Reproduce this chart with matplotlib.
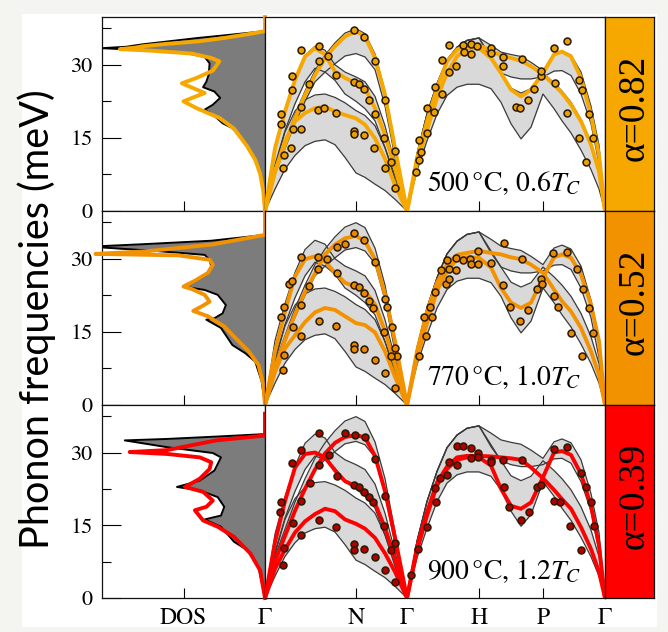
import matplotlib
matplotlib.use('Agg')
import matplotlib.pyplot as plt
from matplotlib.patches import Rectangle

plt.rcParams['mathtext.fontset'] = 'stix'
plt.rcParams['font.family'] = ['STIXGeneral', 'DejaVu Serif']

# ---------------- data ----------------
E_MAX = 39.8
K_TICKS = [0, 91, 142, 214, 278, 340]
K_LABELS = ['Γ', 'N', 'Γ', 'H', 'P', 'Γ']
ROW_TEXT = ['500$\\,$°C, 0.6$T_C$', '770$\\,$°C, 1.0$T_C$', '900$\\,$°C, 1.2$T_C$']
ALPHA_TEXT = ['α=0.82', 'α=0.52', 'α=0.39']
ROW_COLORS = ['#F6A800', '#F39200', '#FF0000']
DOT_COLORS = ['#E9A000', '#E88A00', '#B00000']

# k grids (Γ-N-Γ and Γ-H-P-Γ)
K1 = [0, 10, 20, 30, 40, 50, 60, 70, 80, 91, 100, 110, 120, 130, 142]
K2 = [142, 152, 162, 172, 182, 192, 202, 214, 226, 236, 246, 256, 266, 278,
      289, 297, 306, 316, 326, 334, 340]

# theory bands (grey), Γ-N-Γ
B1_LO = [0, 4.5, 8.6, 11.4, 13.4, 14.3, 14.6, 13.6, 11.0, 7.8, 6.9, 5.5, 4.2, 2.4, 0]
B1_HI = [0, 9.0, 16.2, 20.5, 22.8, 23.8, 24.0, 23.3, 22.2, 20.6, 19.6, 17.5, 13.0, 7.2, 0]
B2_LO = [0, 9.5, 16.5, 22.0, 26.5, 29.3, 28.5, 26.8, 24.0, 22.5, 21.0, 18.5, 13.0, 6.5, 0]
B2_HI = [0, 13.2, 20.8, 27.2, 31.9, 33.8, 33.0, 30.0, 28.5, 27.5, 26.5, 23.5, 17.5, 9.5, 0]
B3_LO = [0, 7.5, 12.8, 18.0, 22.5, 26.5, 28.5, 30.2, 31.8, 32.3, 31.6, 29.0, 21.5, 11.0, 0]
B3_HI = [0, 8.6, 14.2, 19.8, 24.6, 28.8, 32.0, 34.5, 36.5, 37.4, 36.4, 32.2, 24.6, 13.6, 0]
# theory bands, Γ-H-P-Γ
BA_LO = [0, 8.3, 14.4, 19.9, 23.7, 25.4, 26.0, 26.0, 25.1, 22.3, 17.9, 14.8, 17.2, 24.0,
         21.0, 18.5, 16.0, 12.5, 8.5, 4.5, 0]
BA_HI = [0, 11.7, 19.9, 26.1, 31.0, 33.6, 35.0, 35.5, 31.6, 28.3, 25.2, 24.2, 25.1, 28.3,
         26.3, 24.6, 22.3, 18.8, 14.0, 8.5, 0]
BB_LO = [0, 11.7, 19.9, 26.1, 31.0, 33.6, 35.0, 35.5, 31.2, 28.3, 27.5, 27.1, 27.1, 27.5,
         28.7, 28.8, 27.8, 24.0, 17.9, 9.7, 0]
BB_HI = [0, 11.7, 19.9, 26.1, 31.0, 33.6, 35.0, 35.5, 34.0, 32.6, 32.1, 31.7, 30.5, 28.8,
         32.2, 32.8, 32.0, 28.5, 21.5, 13.5, 0]

# fitted dispersions (coloured lines)
R1_B1 = [0, 8.1, 14.3, 18.4, 20.1, 21.1, 21.4, 20.4, 19.7, 19.0, 17.7, 14.9, 10.7, 5.3, 0]
R1_B2 = [0, 12.9, 20.4, 26.9, 31.7, 33.4, 32.1, 28.6, 27.3, 26.2, 25.2, 21.1, 15.6, 8.8, 0]
R1_B3 = [0, 8.1, 13.6, 19.0, 23.8, 27.9, 31.4, 33.8, 35.8, 36.9, 35.8, 31.4, 23.8, 12.9, 0]
R1_U = [0, 10.8, 18.4, 25.2, 30.7, 33.1, 33.8, 34.0, 32.9, 31.9, 31.4, 30.8, 29.7, 28.0,
        25.9, 24.2, 21.8, 18.4, 13.6, 8.1, 0]
R1_L = [0, 9.8, 16.6, 23.2, 28.3, 31.7, 33.4, 33.4, 31.4, 28.3, 24.9, 23.5, 24.9, 28.3,
        32.1, 32.7, 31.7, 27.3, 19.7, 11.5, 0]

R2_B1 = [0, 6.8, 11.6, 14.3, 17.0, 19.0, 19.9, 19.5, 18.2, 16.8, 16.4, 14.9, 11.0, 5.8, 0]
R2_B2 = [0, 11.0, 19.2, 26.4, 29.9, 30.5, 29.5, 27.1, 25.1, 24.2, 23.4, 20.6, 15.1, 8.3, 0]
R2_B3 = [0, 7.8, 13.3, 18.6, 23.2, 27.0, 30.9, 32.9, 34.2, 34.7, 33.6, 29.9, 22.7, 13.1, 0]
R2_U = [0, 11.0, 19.2, 25.1, 28.8, 30.8, 31.2, 31.6, 31.2, 30.9, 30.3, 29.9, 28.8, 27.1,
        23.7, 21.3, 19.2, 15.8, 11.0, 6.2, 0]
R2_L = [0, 9.7, 16.8, 23.4, 27.5, 29.9, 30.3, 30.2, 28.2, 24.0, 21.0, 19.9, 21.0, 26.1,
        30.3, 30.9, 30.2, 26.8, 20.6, 13.1, 0]

R3_B1 = [0, 6.0, 10.0, 13.5, 15.8, 17.3, 18.4, 17.9, 16.2, 15.3, 14.3, 12.4, 9.2, 5.4, 0]
R3_B2 = [0, 11.5, 20.0, 26.9, 29.7, 30.0, 29.0, 26.3, 24.1, 23.0, 22.0, 19.5, 14.5, 8.0, 0]
R3_B3 = [0, 7.5, 12.8, 18.0, 22.5, 26.5, 29.8, 32.0, 33.2, 33.6, 33.1, 29.3, 22.0, 12.5, 0]
R3_U = [0, 10.5, 17.7, 23.8, 27.1, 29.0, 29.3, 29.3, 29.2, 29.0, 28.8, 28.5, 26.9, 24.7,
        22.3, 20.4, 18.4, 14.6, 10.1, 5.4, 0]
R3_L = [0, 9.8, 17.0, 23.2, 26.6, 28.5, 29.0, 29.0, 27.3, 22.5, 19.0, 18.4, 19.7, 24.9,
        30.0, 30.3, 29.5, 25.6, 19.0, 10.8, 0]

# measured points
R1_DOT_K = [16, 16, 27, 27, 36.3, 53.7, 62.7, 53.7, 44.3, 35.7, 27.7, 26.3, 19, 18.3, 36.3,
            53, 58.7, 71, 71, 89, 99, 109.7, 88.7, 93.7, 99, 103.7, 110.3, 120.3, 88.7,
            88.7, 99, 109.3, 118.7, 130.3, 126.3, 120.3, 130.3,
            150.7, 154, 155.7, 154, 162.3, 161.7, 169, 169.7, 176.7, 177.3, 184, 190.7,
            184, 198.3, 205.7, 212.3, 199, 205.7, 225.7, 226.3, 238.3, 237.7, 257.3,
            250.7, 255, 263.3, 269, 275.7, 276.3, 289, 301.7, 290, 302.3, 314, 317.3,
            324, 328, 314, 321.3]
R1_DOT_E = [19.9, 17.8, 27.7, 24.9, 33.0, 33.9, 31.9, 30.7, 26.1, 21.3, 16.9, 13.0, 11.5,
            8.9, 16.9, 20.8, 21.1, 20.1, 28.0, 37.2, 35.6, 30.7, 26.4, 26.1, 25.1, 22.8,
            19.9, 22.8, 16.5, 15.8, 15.6, 12.9, 14.9, 12.3, 10.1, 8.9, 4.7,
            8.1, 10.5, 12.2, 14.6, 16.0, 21.1, 20.4, 25.5, 24.0, 30.9, 34.0, 29.7, 28.6,
            34.1, 34.3, 33.9, 32.7, 32.2, 33.4, 32.5, 31.6, 29.7, 31.2, 21.4, 21.2, 22.8,
            25.1, 27.6, 28.8, 33.4, 34.9, 26.2, 20.1, 26.9, 24.9, 19.9, 14.9, 14.9, 10.1]

R2_DOT_K = [18.7, 16, 23.7, 27, 36.3, 53, 62.3, 53, 44.3, 36.3, 27.7, 18.7, 18.3, 36.3,
            54.3, 71, 72, 80.3, 72, 89, 99, 109.7, 88.7, 93.7, 99, 104.3, 108, 119.7,
            121.7, 88.7, 88.7, 99, 109.7, 118.7, 127, 130.3, 132, 126.3, 120.3, 130.3,
            154, 160.7, 159, 167.3, 165, 169.7, 176.3, 184, 180.7, 184, 190.7, 181.7,
            190.7, 198.3, 205, 205.7, 213, 213, 225.7, 239, 238, 245, 254.7, 263.3,
            257.3, 271.7, 275.7, 277, 288, 301.7, 312.3, 289, 293, 305.7, 318.3, 324,
            328.3, 317.3]
R2_DOT_E = [20.1, 18.0, 24.9, 25.4, 30.3, 30.4, 30.0, 27.8, 24.5, 20.5, 16.0, 10.3, 7.2,
            14.1, 17.2, 16.2, 27.1, 33.1, 32.4, 35.2, 33.8, 29.4, 24.7, 24.2, 23.0, 21.4,
            19.9, 21.8, 20.1, 12.4, 11.5, 11.5, 9.3, 14.9, 16.0, 11.7, 10.0, 10.1, 6.6,
            3.5,
            10.1, 14.1, 18.0, 18.0, 20.1, 23.2, 27.6, 28.0, 24.9, 25.8, 27.6, 29.7, 30.2,
            29.7, 29.9, 29.0, 29.0, 31.6, 29.2, 33.3, 24.7, 20.1, 17.3, 19.4, 30.0, 23.9,
            25.8, 24.9, 31.2, 31.4, 27.8, 22.3, 20.1, 14.8, 23.9, 19.9, 14.8, 10.0]

R3_DOT_K = [54.3, 36.3, 27, 16, 14.7, 36.3, 27.7, 18.7, 18, 36.3, 53.7, 71, 54.3, 63.7,
            72, 45.3, 80.3, 89.7, 100.3, 110.3, 88.7, 93.7, 99, 103.7, 107.7, 120.3,
            130.3, 126.3, 118.7, 88.7, 88.7, 99, 110.3, 120.3, 130.3,
            146.3, 153, 161.7, 170.7, 169.7, 175, 182.3, 184, 191.7, 191.7, 198.3, 206.3,
            205.7, 213, 213, 225.7, 226.3, 238.3, 239, 244.3, 255.7, 264, 257.3, 271.7,
            276.3, 289, 295, 289, 302.3, 316.3, 320.7, 325.7, 304.7, 315.7, 329]
R3_DOT_E = [34.1, 30.5, 27.9, 19.9, 17.8, 20.0, 15.5, 10.3, 6.9, 13.0, 16.0, 14.7, 27.4,
            29.5, 25.2, 23.8, 34.0, 33.6, 33.2, 28.6, 23.2, 22.9, 21.9, 20.8, 19.9, 21.0,
            11.4, 9.8, 14.8, 11.2, 9.9, 10.1, 8.4, 5.8, 3.3,
            4.8, 10.1, 14.7, 19.9, 22.6, 24.7, 25.4, 28.1, 27.4, 31.4, 31.4, 31.0, 28.8,
            29.9, 29.0, 28.5, 28.0, 28.5, 22.8, 18.8, 16.0, 17.8, 28.5, 22.8, 23.3, 20.1,
            19.9, 30.7, 31.2, 25.8, 22.8, 19.9, 14.8, 10.0, 14.8]

# phonon DOS: theory (grey) and fitted (coloured)
R1_DOS_E = [0, 4, 7.7, 10.5, 13.3, 15.5, 17.0, 18.0, 19.5, 20.8, 21.8, 23.2, 24.5, 25.4,
            26.5, 28.0, 30.3, 31.6, 32.5, 33.1, 33.4, 33.7, 34.2, 35.5, 36.2, 36.9]
R1_DOS = [0, 0.01, 0.03, 0.06, 0.11, 0.16, 0.20, 0.26, 0.31, 0.37, 0.32, 0.275, 0.31, 0.38,
          0.36, 0.345, 0.34, 0.37, 0.5, 0.8, 1.0, 0.85, 0.75, 0.41, 0.2, 0.0]
R1_FDOS_E = [0, 4, 7.7, 10.5, 13.3, 16.9, 19.1, 21.1, 22.5, 23.3, 24.2, 25.2, 26.2, 27.3,
             28.8, 30.7, 31.4, 32.3, 32.9, 33.2, 33.5, 33.8, 34.3, 34.8, 35.5, 36.3, 36.9,
             39.8]
R1_FDOS = [0, 0.01, 0.03, 0.06, 0.11, 0.19, 0.28, 0.42, 0.50, 0.44, 0.37, 0.44, 0.51, 0.42,
           0.32, 0.28, 0.33, 0.45, 0.7, 0.89, 0.8, 0.75, 0.6, 0.41, 0.25, 0.1, 0.0, 0.0]

R2_DOS_E = [0, 4.8, 8.9, 10.6, 12.3, 15.8, 17.5, 17.8, 18.8, 20.5, 22.6, 23.6, 24.3, 25.3,
            26.7, 28.4, 29.8, 30.8, 31.5, 32.3, 32.6, 33.0, 33.7, 34.9]
R2_DOS = [0, 0.02, 0.06, 0.12, 0.20, 0.27, 0.36, 0.31, 0.26, 0.24, 0.29, 0.37, 0.50, 0.43,
          0.36, 0.33, 0.34, 0.37, 0.63, 0.99, 1.0, 0.74, 0.33, 0.0]
R2_FDOS_E = [0, 4.1, 8.2, 11.0, 13.7, 16.1, 18.2, 19.3, 20.2, 21.2, 22.6, 23.8, 24.3, 25.5,
             27.1, 28.8, 29.8, 30.7, 31.0, 31.5, 32.9, 34.9, 39.8]
R2_FDOS = [0, 0.01, 0.04, 0.10, 0.18, 0.25, 0.35, 0.44, 0.39, 0.34, 0.37, 0.45, 0.50, 0.43,
           0.35, 0.32, 0.34, 0.53, 1.04, 0.74, 0.33, 0.0, 0.0]

R3_DOS_E = [0, 6.4, 9.9, 11.6, 14.7, 16.2, 17.0, 18.8, 20.8, 22.2, 22.9, 24.2, 26.3, 29.0,
            29.9, 31.1, 32.5, 32.8, 33.3, 33.8]
R3_DOS = [0, 0.04, 0.11, 0.19, 0.27, 0.37, 0.27, 0.25, 0.29, 0.40, 0.54, 0.40, 0.31, 0.27,
          0.32, 0.60, 0.86, 0.60, 0.29, 0.0]
R3_FDOS_E = [0, 5.7, 9.2, 12.6, 14.7, 16.0, 18.1, 18.8, 20.1, 21.9, 22.9, 24.6, 26.6, 28.0,
             29.0, 29.7, 30.1, 30.5, 32.5, 33.5, 38.0]
R3_FDOS = [0, 0.03, 0.09, 0.19, 0.29, 0.38, 0.43, 0.36, 0.32, 0.38, 0.49, 0.40, 0.34, 0.33,
           0.40, 0.60, 0.83, 0.60, 0.30, 0.0, 0.0]

ROWS = [
    dict(fit1=[R1_B1, R1_B2, R1_B3], fit2=[R1_U, R1_L], dk=R1_DOT_K, de=R1_DOT_E,
         dosE=R1_DOS_E, dos=R1_DOS, fE=R1_FDOS_E, f=R1_FDOS),
    dict(fit1=[R2_B1, R2_B2, R2_B3], fit2=[R2_U, R2_L], dk=R2_DOT_K, de=R2_DOT_E,
         dosE=R2_DOS_E, dos=R2_DOS, fE=R2_FDOS_E, f=R2_FDOS),
    dict(fit1=[R3_B1, R3_B2, R3_B3], fit2=[R3_U, R3_L], dk=R3_DOT_K, de=R3_DOT_E,
         dosE=R3_DOS_E, dos=R3_DOS, fE=R3_FDOS_E, f=R3_FDOS),
]

# ---------------- layout ----------------
W, H = 668, 632
fig = plt.figure(figsize=(W / 100, H / 100), dpi=100)
fig.patch.set_facecolor('#F4F5F0')
fig.add_artist(Rectangle((22 / W, 1 - 627 / H), (657 - 22) / W, (627 - 14) / H,
                         transform=fig.transFigure, facecolor='white',
                         edgecolor='none', zorder=-10))

rows_px = [(17, 211), (211, 405), (405, 598)]
SPINE_LW = 0.9

for i, (top, bot) in enumerate(rows_px):
    row = ROWS[i]
    col = ROW_COLORS[i]
    last = (i == 2)
    b = 1 - bot / H
    h = (bot - top) / H
    ax_d = fig.add_axes([102 / W, b, 163 / W, h])
    ax_p = fig.add_axes([265 / W, b, 340 / W, h])
    ax_b = fig.add_axes([605 / W, b, 49 / W, h])
    for ax in (ax_d, ax_p, ax_b):
        for s in ax.spines.values():
            s.set_linewidth(SPINE_LW)
            s.set_color('#111111')

    # ---- DOS ----
    ax_d.set_xlim(1, 0)
    ax_d.set_ylim(0, E_MAX)
    ax_d.fill_betweenx(row['dosE'], 0, row['dos'], color='#7c7c7c', lw=0, zorder=1)
    ax_d.plot(row['dos'], row['dosE'], color='black', lw=1.4, zorder=2)
    ax_d.plot(row['f'], row['fE'], color=col, lw=2.8, zorder=3, clip_on=False,
              solid_joinstyle='round')
    ax_d.set_yticks([0, 15, 30])
    ax_d.set_yticks([7.5, 22.5, 37.5], minor=True)
    ax_d.set_xticks([0.5])
    ax_d.set_xticklabels(['DOS'] if last else [''])
    ax_d.tick_params(axis='y', which='major', direction='in', length=13.5, width=0.8,
                     labelsize=16, pad=7)
    ax_d.tick_params(axis='y', which='minor', direction='in', length=6.5, width=0.8)
    ax_d.tick_params(axis='x', direction='in', length=7, width=0.8, labelsize=17, pad=7)

    # ---- dispersion ----
    ax_p.set_xlim(0, 340)
    ax_p.set_ylim(0, E_MAX)
    bands = [(K1, B1_LO, B1_HI), (K1, B2_LO, B2_HI), (K1, B3_LO, B3_HI),
             (K2, BA_LO, BA_HI), (K2, BB_LO, BB_HI)]
    for kk, lo, hi in bands:
        ax_p.fill_between(kk, lo, hi, color='#d9d9d9', lw=0, zorder=1)
    for kk, lo, hi in bands:
        ax_p.plot(kk, lo, color='#3a3a3a', lw=0.9, zorder=2)
        ax_p.plot(kk, hi, color='#3a3a3a', lw=0.9, zorder=2)
    for fit in row['fit1']:
        ax_p.plot(K1, fit, color=col, lw=2.8, zorder=3, solid_joinstyle='round')
    for fit in row['fit2']:
        ax_p.plot(K2, fit, color=col, lw=2.8, zorder=3, solid_joinstyle='round')
    ax_p.plot(row['dk'], row['de'], 'o', ms=5.0, mfc=DOT_COLORS[i], mec='#2a1800',
              mew=1.1, zorder=4, clip_on=False)
    ax_p.text(316, 4.0, ROW_TEXT[i], ha='right', va='baseline', fontsize=20, zorder=5)
    ax_p.set_yticks([])
    ax_p.set_xticks(K_TICKS)
    ax_p.set_xticklabels(K_LABELS if last else [''] * len(K_TICKS))
    ax_p.tick_params(axis='x', direction='in', length=7, width=0.8, labelsize=17, pad=7)

    # ---- alpha box ----
    ax_b.set_facecolor(col)
    ax_b.set_xticks([])
    ax_b.set_yticks([])
    ax_b.text(0.6, 0.53, ALPHA_TEXT[i], rotation=90, ha='center', va='center',
              fontsize=27, family=['Liberation Serif', 'DejaVu Serif'],
              transform=ax_b.transAxes)

fig.text(37 / W, 1 - 319 / H, 'Phonon frequencies (meV)', rotation=90, ha='center',
         va='center', fontsize=28.5, family='Lato')

fig.savefig('out.png', dpi=100, facecolor=fig.get_facecolor())
